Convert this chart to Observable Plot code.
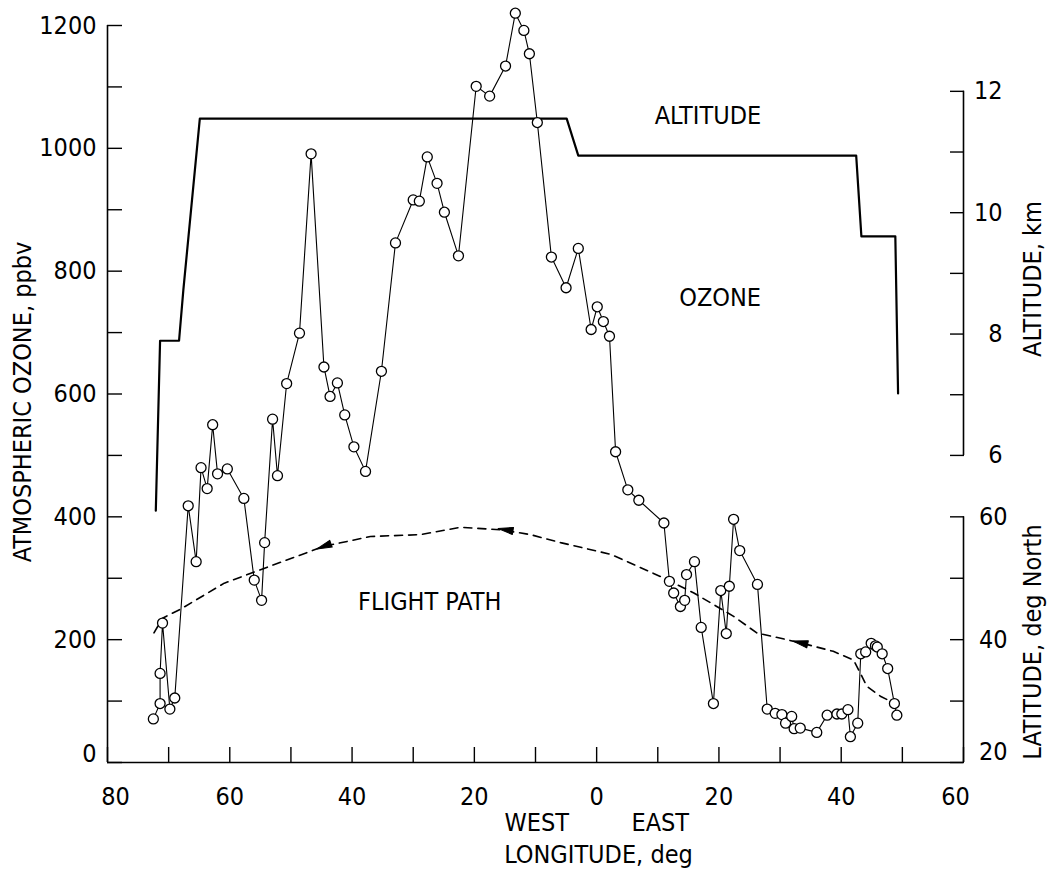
<!DOCTYPE html>
<html><head><meta charset="utf-8">
<script src="https://cdn.jsdelivr.net/npm/d3@7"></script>
<script src="https://cdn.jsdelivr.net/npm/@observablehq/plot@0.6"></script>
<style>html,body{margin:0;padding:0;background:#fff;}</style>
</head><body><div id="chart"></div>
<script>
// Ozone samples: longitude (deg, West negative) and ppbv
const ozoneLon = [-72.5,-71.4,-71.4,-71.0,-69.8,-69.0,-66.8,-65.5,-64.7,-63.7,-62.8,-62.0,-60.4,-57.7,-56.0,-54.8,-54.3,-53.0,-52.2,-50.7,-48.6,-46.7,-44.6,-43.6,-42.4,-41.2,-39.7,-37.8,-35.2,-32.9,-30.0,-29.0,-27.7,-26.1,-24.9,-22.6,-19.7,-17.5,-14.9,-13.3,-11.9,-11.0,-9.7,-7.4,-5.0,-3.0,-0.9,0.1,1.1,2.1,3.1,5.1,6.9,11.0,11.9,12.6,13.7,14.4,14.7,16.0,17.1,19.1,20.3,21.2,21.7,22.4,23.4,26.3,27.9,29.2,30.3,30.9,31.9,32.3,33.3,36.0,37.7,39.3,40.1,41.1,41.5,42.7,43.2,44.0,44.9,45.6,45.9,46.7,47.6,48.7,49.1];
const ozonePpbv = [71,96,145,227,87,105,418,327,480,446,550,470,478,430,297,264,358,559,467,617,699,991,644,596,618,566,514,474,637,846,916,914,986,943,896,825,1101,1085,1134,1220,1192,1154,1042,823,773,837,705,742,718,694,506,444,427,390,295,276,254,264,306,327,220,96,280,210,287,396,345,290,87,80,78,64,75,55,56,49,77,79,79,86,42,64,177,180,194,190,188,177,153,96,77];

// Altitude profile (km)
const altitudeLon = [-72.1,-71.4,-68.3,-67.6,-64.9,-4.9,-3.0,42.45,43.3,48.85,49.3];
const altitudeKm  = [5.09,7.89,7.89,8.72,11.55,11.55,10.94,10.94,9.61,9.61,7.02];

// Flight path latitude (deg North)
const pathLon = [-72.4,-71.0,-68.0,-60.9,-52.8,-44.6,-37.0,-28.8,-22.3,-15.7,-10.8,-5.9,2.3,10.4,15.9,22.4,26.2,33.3,38.7,42.0,43.1,44.2,46.4,48.6];
const pathLat = [41.1,43.5,45.0,49.2,52.2,55.2,56.8,57.1,58.3,57.9,57.1,55.8,53.9,50.3,47.6,43.8,41.1,39.5,38.1,36.7,34.6,32.4,30.8,29.7];

// Direction arrows on the flight path
const arrowLon = [-44.6,-14.9,33.3];
const arrowLat = [55.2,57.9,39.5];

// Axis ticks
const ozoneTicks = d3.range(0,1201,100);
const ozoneLabels = [200,400,600,800,1000,1200];
const lonTicks = d3.range(-80,61,10);
const lonLabels = [-60,-40,-20,0,20,40];
const altTicks = [6,7,8,9,10,11,12];
const altLabels = [6,8,10,12];
const latTicks = [20,30,40,50,60];
const latLabels = [40,60];

// In-plot labels
const curveLabels = [
  {text:"ALTITUDE", lon:18.2, ppbv:1053},
  {text:"OZONE", lon:20.2, ppbv:757},
  {text:"FLIGHT PATH", lon:-27.3, ppbv:262}
];
const lonWords = [{text:"WEST", lon:-9.8},{text:"EAST", lon:10.4}];

// Secondary axes mapped onto the ozone scale
const altToOz = a => 500 + (a - 6) * 98.8;
const ozToAlt = v => Math.round((v - 500) / 98.8 + 6);
const latToOz = l => (l - 20) * 10;
const ozToLat = v => Math.round(v / 10 + 20);

const ozone = ozoneLon.map((lon,i) => ({lon, ppbv: ozonePpbv[i]}));
const altitude = altitudeLon.map((lon,i) => ({lon, km: altitudeKm[i]}));
const path = pathLon.map((lon,i) => ({lon, lat: pathLat[i]}));
function heading(lon){
  for (let i=0;i<pathLon.length-1;i++){
    if (lon >= pathLon[i] && lon <= pathLon[i+1]){
      const dx = -(pathLon[i+1]-pathLon[i]);
      const dy = (pathLat[i+1]-pathLat[i]);
      return Math.atan2(dx, -dy) * 180 / Math.PI;
    }
  }
  return -90;
}
const arrows = arrowLon.map((lon,i) => ({lon, lat: arrowLat[i], angle: heading(lon)}));
const dart = {draw(ctx, l, r){ ctx.moveTo(0,-l); ctx.lineTo(r,0); ctx.lineTo(-r,0); ctx.closePath(); }};

const FONT = '"DejaVu Sans Condensed","Liberation Sans Narrow","DejaVu Sans",sans-serif';
const plain = d => String(d);

const chart = Plot.plot({
  width: 1047, height: 875,
  marginLeft: 107, marginRight: 84, marginTop: 25, marginBottom: 113,
  x: {domain: [-80, 60]},
  y: {domain: [0, 1200]},
  style: {fontFamily: FONT, fontSize: "25px", color: "black", background: "white", overflow: "visible"},
  marks: [
    // axis lines
    Plot.ruleX([-80], {y1: 0, y2: 1200, strokeWidth: 1.6}),
    Plot.ruleY([0], {x1: -80, x2: 60, strokeWidth: 1.6}),
    Plot.ruleX([60], {y1: altToOz(6), y2: altToOz(12), strokeWidth: 1.6}),
    Plot.ruleX([60], {y1: 0, y2: latToOz(60), strokeWidth: 1.6}),
    // left axis
    Plot.axisY(ozoneTicks, {anchor: "left", tickSize: -15, fill: "none", label: null, strokeWidth: 1.4}),
    Plot.axisY(ozoneLabels, {anchor: "left", tickSize: 0, tickPadding: 11, tickFormat: plain, label: null}),
    Plot.axisY([0], {anchor: "left", tickSize: 0, tickPadding: 11, dy: -9, tickFormat: plain, label: null}),
    // bottom axis
    Plot.axisX(lonTicks, {anchor: "bottom", tickSize: -15, fill: "none", label: null, strokeWidth: 1.4}),
    Plot.axisX(lonLabels, {anchor: "bottom", tickSize: 0, tickPadding: 25, tickFormat: d => Math.abs(d), label: null}),
    Plot.axisX([-80], {anchor: "bottom", tickSize: 0, tickPadding: 25, dx: 8, tickFormat: d => Math.abs(d), label: null}),
    Plot.axisX([60], {anchor: "bottom", tickSize: 0, tickPadding: 25, dx: -8, tickFormat: d => Math.abs(d), label: null}),
    // right axes
    Plot.axisY(altTicks.map(altToOz), {anchor: "right", tickSize: -14, fill: "none", label: null, strokeWidth: 1.4}),
    Plot.axisY(altLabels.map(altToOz), {anchor: "right", tickSize: 0, tickPadding: 39, textAnchor: "end", tickFormat: ozToAlt, label: null}),
    Plot.axisY(latTicks.map(latToOz), {anchor: "right", tickSize: -14, fill: "none", label: null, strokeWidth: 1.4}),
    Plot.axisY(latLabels.map(latToOz), {anchor: "right", tickSize: 0, tickPadding: 44, textAnchor: "end", tickFormat: ozToLat, label: null}),
    Plot.axisY([latToOz(20)], {anchor: "right", tickSize: 0, tickPadding: 44, dy: -11, textAnchor: "end", tickFormat: ozToLat, label: null}),
    // axis titles
    Plot.text(["ATMOSPHERIC OZONE, ppbv"], {frameAnchor: "left", textAnchor: "middle", dx: -85, dy: 8, rotate: -90}),
    Plot.text(["ALTITUDE, km"], {frameAnchor: "right", textAnchor: "middle", dx: 69, dy: -115, rotate: -90}),
    Plot.text(["LATITUDE, deg North"], {frameAnchor: "right", textAnchor: "middle", dx: 69, dy: 248, rotate: -90}),
    Plot.text(lonWords, {x: "lon", text: "text", frameAnchor: "bottom", dy: 68}),
    Plot.text(["LONGITUDE, deg"], {x: 0.3, frameAnchor: "bottom", dy: 100}),
    // data
    Plot.line(altitude, {x: "lon", y: d => altToOz(d.km), strokeWidth: 2.2}),
    Plot.line(path, {x: "lon", y: d => latToOz(d.lat), strokeWidth: 1.6, strokeDasharray: "8,6"}),
    Plot.vector(arrows, {x: "lon", y: d => latToOz(d.lat), rotate: "angle", length: 15, r: 3.6, shape: dart, anchor: "middle", fill: "black", stroke: "black", strokeWidth: 1}),
    Plot.line(ozone, {x: "lon", y: "ppbv", strokeWidth: 1.1}),
    Plot.dot(ozone, {x: "lon", y: "ppbv", r: 5, fill: "white", stroke: "black", strokeWidth: 1.3}),
    Plot.text(curveLabels, {x: "lon", y: "ppbv", text: "text"})
  ]
});
document.getElementById("chart").appendChild(chart);
</script>
</body></html>
